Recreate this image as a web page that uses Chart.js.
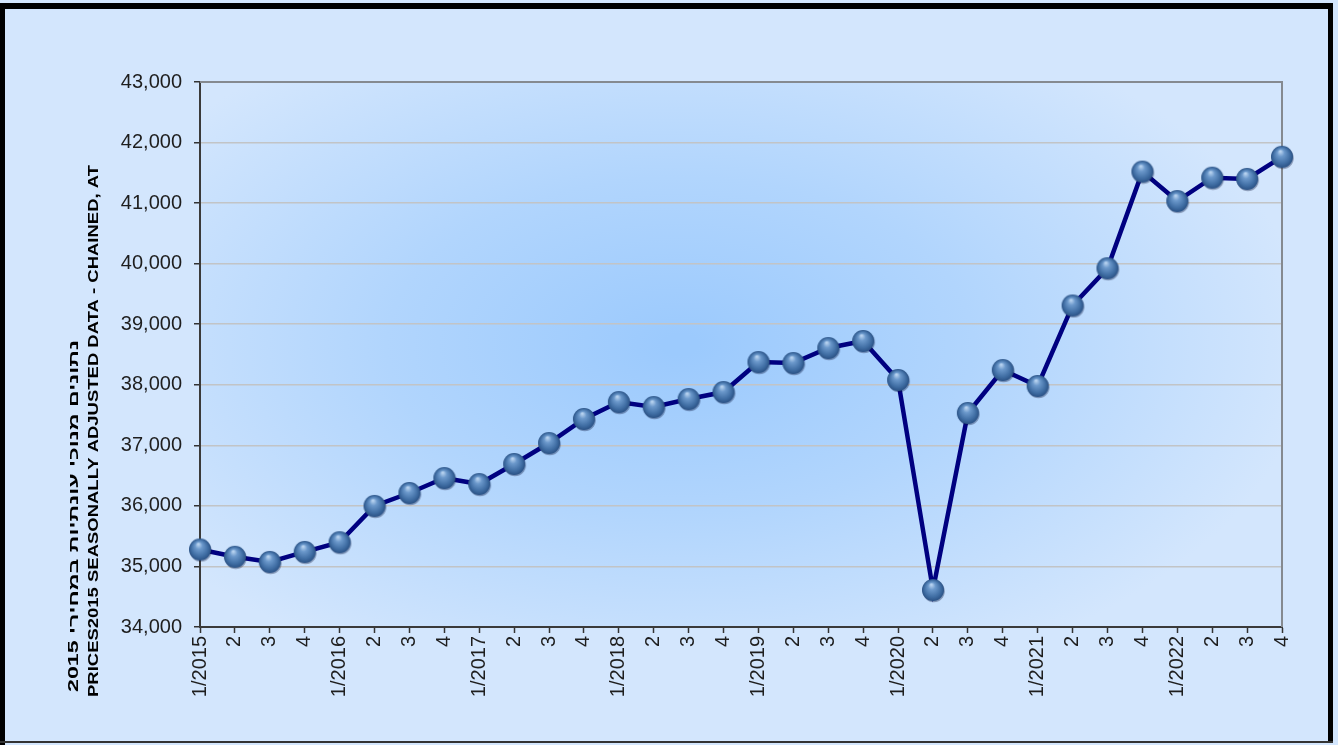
<!DOCTYPE html>
<html>
<head>
<meta charset="utf-8">
<script src="https://cdn.jsdelivr.net/npm/chart.js@4/dist/chart.umd.min.js"></script>
<style>
html,body{margin:0;padding:0;background:#d3e6fd;}
#wrap{width:1338px;height:745px;position:relative;}
</style>
</head>
<body>
<div id="wrap"><canvas id="c" width="1338" height="745"></canvas></div>
<script>
const quarterLabels = ['1/2015','2','3','4','1/2016','2','3','4','1/2017','2','3','4','1/2018','2','3','4','1/2019','2','3','4','1/2020','2','3','4','1/2021','2','3','4','1/2022','2','3','4'];
const gdpValues = [35280,35160,35075,35240,35400,36000,36213,36460,36361,36692,37038,37435,37715,37633,37765,37880,38376,38359,38607,38723,38079,34611,37534,38244,37980,39310,39925,41520,41034,41420,41400,41765];
const yAxisTitleHe = 'נתונים מנוכי עונתיות במחירי 2015';
const yAxisTitleEn = 'PRICES2015 SEASONALLY ADJUSTED DATA - CHAINED, AT';
const yMin = 34000, yMax = 43000, yStep = 1000;

function makeSphere(r){
  const s = 2*r + 4;
  const c = document.createElement('canvas');
  c.width = s; c.height = s;
  const g = c.getContext('2d');
  const cx = s/2, cy = s/2;
  g.beginPath(); g.arc(cx+0.8, cy+1.2, r, 0, Math.PI*2);
  g.fillStyle = 'rgba(10,20,60,0.35)'; g.fill();
  const grad = g.createRadialGradient(cx - r*0.15, cy - r*0.5, r*0.05, cx, cy, r);
  grad.addColorStop(0, '#b8d3f0');
  grad.addColorStop(0.3, '#6b98cb');
  grad.addColorStop(0.75, '#3f6da3');
  grad.addColorStop(1, '#2b5285');
  g.beginPath(); g.arc(cx, cy, r, 0, Math.PI*2);
  g.fillStyle = grad; g.fill();
  return c;
}
const sphere = makeSphere(11);

function drawVerticalText(ctx, text, x, yStart, font, targetLen){
  ctx.save();
  ctx.font = font;
  const w = ctx.measureText(text).width;
  ctx.translate(x, yStart);
  ctx.rotate(-Math.PI/2);
  ctx.scale(targetLen / w, 1);
  ctx.textAlign = 'left';
  ctx.textBaseline = 'middle';
  ctx.fillStyle = '#000';
  ctx.fillText(text, 0, 0);
  ctx.restore();
}

const bgPlugin = {
  id: 'bg',
  beforeDraw(chart){
    const ctx = chart.ctx, a = chart.chartArea;
    ctx.save();
    ctx.fillStyle = '#d3e6fd';
    ctx.fillRect(0, 0, chart.width, chart.height);
    ctx.beginPath(); ctx.rect(a.left, a.top, a.right - a.left, a.bottom - a.top); ctx.clip();
    const cx = 680, cy = 345, sx = 1.75;
    ctx.translate(cx, cy); ctx.scale(sx, 1);
    const grad = ctx.createRadialGradient(0, 0, 10, 0, 0, 360);
    grad.addColorStop(0, '#9ccafd');
    grad.addColorStop(0.45, '#b1d5fd');
    grad.addColorStop(1, '#d3e6fd');
    ctx.fillStyle = grad;
    ctx.fillRect(-cx/sx - 50, -cy - 50, chart.width/sx + 100, chart.height + 100);
    ctx.restore();
  },
  beforeDatasetsDraw(chart){
    const ctx = chart.ctx, a = chart.chartArea;
    ctx.save();
    ctx.strokeStyle = '#858a90'; ctx.lineWidth = 2;
    ctx.beginPath();
    ctx.moveTo(a.left, a.top); ctx.lineTo(a.right, a.top); ctx.lineTo(a.right, a.bottom);
    ctx.stroke();
    ctx.restore();
  },
  afterDraw(chart){
    const ctx = chart.ctx;
    drawVerticalText(ctx, yAxisTitleHe, 74, 692, 'bold 14px "Liberation Sans"', 352);
    drawVerticalText(ctx, yAxisTitleEn, 94, 697, 'bold 15px "Liberation Sans"', 532);
    ctx.save();
    ctx.fillStyle = '#000';
    ctx.fillRect(0, 3, 5, 742);
    ctx.fillRect(0, 3, 1333, 6);
    ctx.fillRect(1328, 3, 5, 740);
    ctx.fillStyle = '#333';
    ctx.fillRect(0, 741, 1333, 2);
    ctx.restore();
  }
};

new Chart(document.getElementById('c'), {
  type: 'line',
  data: {
    labels: quarterLabels,
    datasets: [{
      data: gdpValues,
      borderColor: '#000080',
      borderWidth: 4.5,
      tension: 0,
      pointStyle: sphere,
      pointRadius: 11,
      pointHoverRadius: 11,
      clip: false
    }]
  },
  options: {
    responsive: false,
    animation: false,
    events: [],
    layout: { padding: { top: 82, left: 62, right: 56, bottom: 0 } },
    plugins: { legend: { display: false }, tooltip: { enabled: false } },
    scales: {
      x: {
        offset: false,
        grid: { display: true, drawOnChartArea: false, tickLength: 6, tickColor: '#333', tickWidth: 1.5 },
        border: { color: '#3a3a3a', width: 2 },
        ticks: {
          autoSkip: false, minRotation: 90, maxRotation: 90, padding: 3,
          color: '#1e1e1e', font: { family: 'Liberation Sans', size: 20 }
        },
        afterFit(s){ s.height = 745 - 627; }
      },
      y: {
        min: yMin, max: yMax,
        grid: { color: '#c2c4c6', lineWidth: 1.5, tickLength: 6, tickColor: '#333', tickWidth: 1.5 },
        border: { color: '#3a3a3a', width: 2 },
        ticks: {
          stepSize: yStep, padding: 12, color: '#1e1e1e',
          font: { family: 'Liberation Sans', size: 20 },
          callback: v => Number(v).toLocaleString('en-US')
        },
        title: { display: false },
        afterFit(s){ s.width = 200 - 62; }
      }
    }
  },
  plugins: [bgPlugin]
});
</script>
</body>
</html>
